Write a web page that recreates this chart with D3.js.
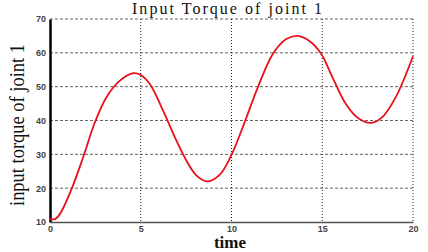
<!DOCTYPE html>
<html>
<head>
<meta charset="utf-8">
<script src="https://cdn.jsdelivr.net/npm/d3@7"></script>
<style>
  body { margin: 0; background: #fff; }
  svg { display: block; }
</style>
</head>
<body>
<div id="main"></div>
<script>
// values
const time = [0, 0.25, 0.55, 1.2, 1.83, 2.47, 3.11, 3.85, 4.6, 4.95, 5.5, 6.23, 6.96, 7.51, 8.06, 8.7, 9.34, 9.95, 10.62, 11.45, 12.27, 13.0, 13.64, 14.29, 14.93, 15.57, 16.3, 17.03, 17.7, 18.31, 19.05, 20];
const torque = [11, 10.8, 12.4, 19.9, 29.2, 39.4, 46.9, 51.8, 54, 53.6, 50.8, 42.9, 34.1, 28.2, 23.8, 22, 23.9, 29.3, 38, 49.8, 59.6, 64, 65, 63.5, 59.8, 52.7, 44.9, 40.5, 39.3, 41, 46.9, 59];
const xTicks = [0, 5, 10, 15, 20];
const yTicks = [10, 20, 30, 40, 50, 60, 70];

const cfg = {div: '#main', width: 363, height: 203, top: 19, left: 50, bottom: 30, right: 15};

const svg = d3.select(cfg.div)
  .append('svg')
  .attr('width', 428)
  .attr('height', 252);

const g = svg.append('g')
  .attr('transform', `translate(${cfg.left},${cfg.top})`);

const x = d3.scaleLinear().domain([0, 20]).range([0, cfg.width]);
const y = d3.scaleLinear().domain([10, 70]).range([cfg.height, 0]);

// grid: dashed horizontals, dotted verticals
g.append('g')
  .selectAll('line')
  .data(yTicks.filter(d => d > 10))
  .join('line')
  .attr('x1', 0).attr('x2', cfg.width)
  .attr('y1', d => y(d)).attr('y2', d => y(d))
  .attr('stroke', '#666')
  .attr('stroke-width', 1)
  .attr('stroke-dasharray', '3,2');

g.append('g')
  .selectAll('line')
  .data(xTicks.filter(d => d > 0))
  .join('line')
  .attr('x1', d => x(d)).attr('x2', d => x(d))
  .attr('y1', 0).attr('y2', cfg.height)
  .attr('stroke', '#222')
  .attr('stroke-width', 1)
  .attr('stroke-dasharray', '1,2');

// axes
const xAxis = d3.axisBottom(x).tickValues(xTicks).tickSize(0).tickPadding(4);
const yAxis = d3.axisLeft(y).tickValues(yTicks).tickSize(0).tickPadding(4);

const gx = g.append('g')
  .attr('transform', `translate(0,${cfg.height})`)
  .call(xAxis);
gx.select('.domain').attr('stroke', '#555').attr('stroke-width', 1.5);

const gy = g.append('g').call(yAxis);
gy.select('.domain').attr('stroke', '#000').attr('stroke-width', 2.5);

svg.selectAll('.tick text')
  .attr('font-family', 'Liberation Sans, Arial, sans-serif')
  .attr('font-size', 9)
  .attr('font-weight', 'bold')
  .attr('fill', '#444');

// curve
const pts = time.map((t, i) => ({t: t, v: torque[i]}));
const line = d3.line()
  .x(d => x(d.t))
  .y(d => y(d.v))
  .curve(d3.curveCatmullRom);

g.append('path')
  .datum(pts)
  .attr('fill', 'none')
  .attr('stroke', '#e8101c')
  .attr('stroke-width', 1.8)
  .attr('d', line);

// labels
svg.append('text')
  .attr('x', 227).attr('y', 14)
  .attr('text-anchor', 'middle')
  .attr('font-family', 'Liberation Serif, Times New Roman, serif')
  .attr('font-size', 16)
  .attr('textLength', 190)
  .attr('lengthAdjust', 'spacing')
  .attr('fill', '#111')
  .text('Input Torque of joint 1');

svg.append('text')
  .attr('x', 230).attr('y', 248)
  .attr('text-anchor', 'middle')
  .attr('font-family', 'Liberation Serif, Times New Roman, serif')
  .attr('font-size', 17)
  .attr('font-weight', 'bold')
  .attr('fill', '#111')
  .text('time');

svg.append('text')
  .attr('transform', 'translate(24,125) rotate(-90)')
  .attr('text-anchor', 'middle')
  .attr('font-family', 'Liberation Serif, Times New Roman, serif')
  .attr('font-size', 20)
  .attr('textLength', 162)
  .attr('lengthAdjust', 'spacingAndGlyphs')
  .attr('fill', '#111')
  .text('input torque of joint 1');
</script>
</body>
</html>
